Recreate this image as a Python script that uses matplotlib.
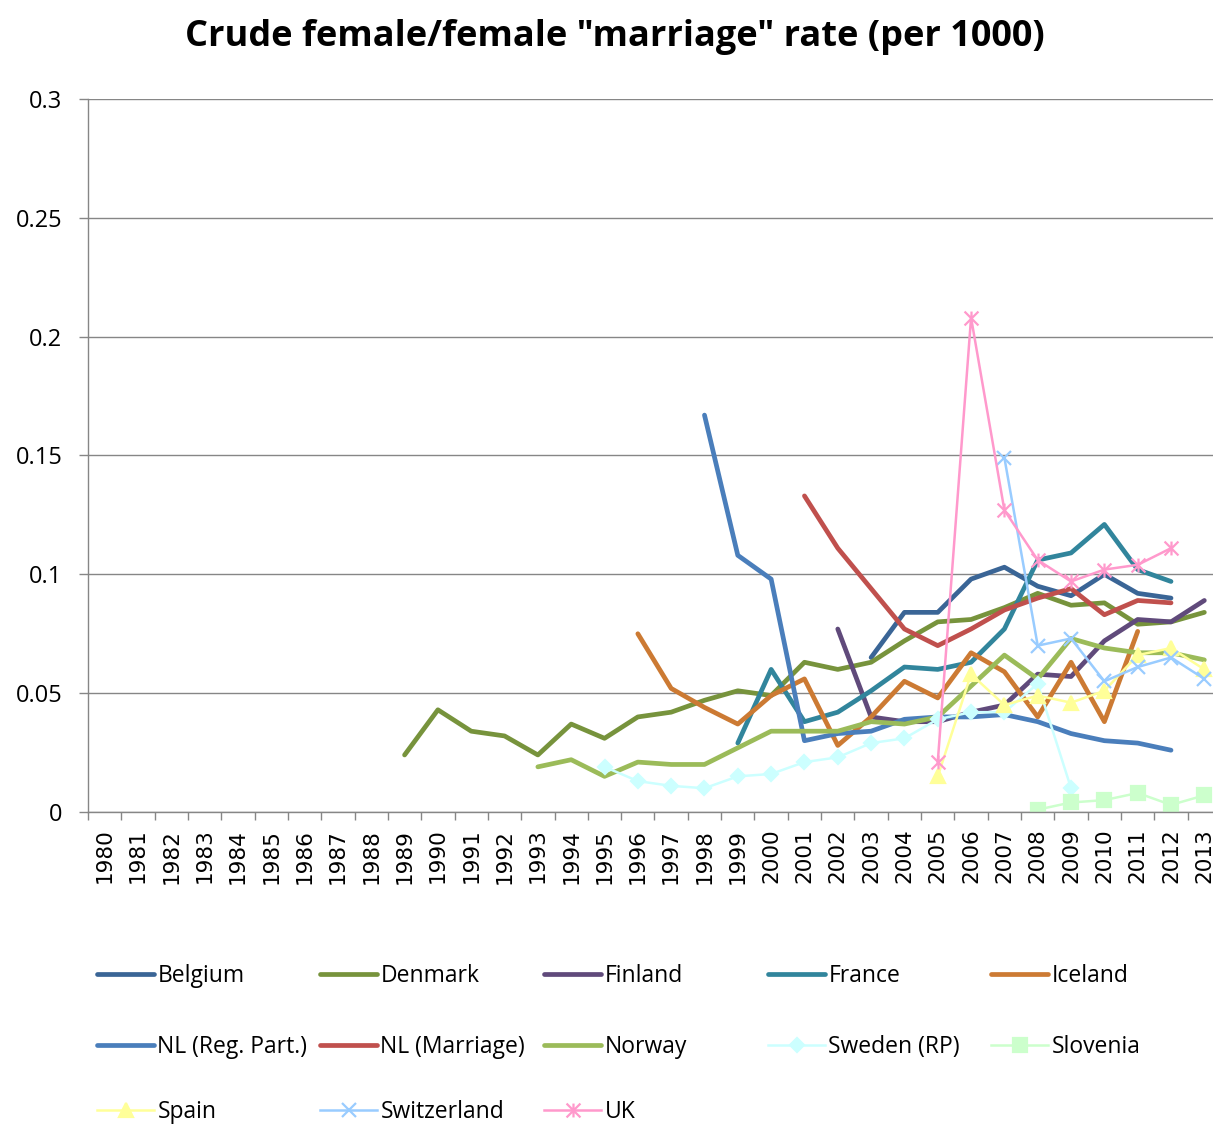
import numpy as np
import matplotlib.pyplot as plt
from matplotlib.path import Path

# years on the category axis
years = list(range(1980, 2014))
ytick_vals = [0, 0.05, 0.1, 0.15, 0.2, 0.25, 0.3]
ytick_labels = ['0', '0.05', '0.1', '0.15', '0.2', '0.25', '0.3']

# each series: first year + values
belgium_start = 2003
belgium = [0.065, 0.084, 0.084, 0.098, 0.103, 0.095, 0.091, 0.100, 0.092, 0.090]
denmark_start = 1989
denmark = [0.024, 0.043, 0.034, 0.032, 0.024, 0.037, 0.031, 0.040, 0.042, 0.047,
           0.051, 0.049, 0.063, 0.060, 0.063, 0.072, 0.080, 0.081, 0.086, 0.092,
           0.087, 0.088, 0.079, 0.080, 0.084]
finland_start = 2002
finland = [0.077, 0.040, 0.038, 0.038, 0.042, 0.045, 0.058, 0.057, 0.072, 0.081, 0.080, 0.089]
france_start = 1999
france = [0.029, 0.060, 0.038, 0.042, 0.051, 0.061, 0.060, 0.063, 0.077, 0.106,
          0.109, 0.121, 0.102, 0.097]
iceland_start = 1996
iceland = [0.075, 0.052, 0.044, 0.037, 0.049, 0.056, 0.028, 0.040, 0.055, 0.048,
           0.067, 0.059, 0.040, 0.063, 0.038, 0.076]
nl_rp_start = 1998
nl_rp = [0.167, 0.108, 0.098, 0.030, 0.033, 0.034, 0.039, 0.040, 0.040, 0.041,
         0.038, 0.033, 0.030, 0.029, 0.026]
nl_mar_start = 2001
nl_mar = [0.133, 0.111, 0.094, 0.077, 0.070, 0.077, 0.085, 0.090, 0.094, 0.083, 0.089, 0.088]
norway_start = 1993
norway = [0.019, 0.022, 0.015, 0.021, 0.020, 0.020, 0.027, 0.034, 0.034, 0.034,
          0.038, 0.037, 0.040, 0.053, 0.066, 0.056, 0.073, 0.069, 0.067, 0.067, 0.064]
sweden_start = 1995
sweden = [0.019, 0.013, 0.011, 0.010, 0.015, 0.016, 0.021, 0.023, 0.029, 0.031,
          0.039, 0.042, 0.042, 0.054, 0.010]
slovenia_start = 2008
slovenia = [0.001, 0.004, 0.005, 0.008, 0.003, 0.007]
spain_start = 2005
spain = [0.015, 0.058, 0.045, 0.049, 0.046, 0.051, 0.066, 0.069, 0.060]
swiss_start = 2007
swiss = [0.149, 0.070, 0.073, 0.055, 0.061, 0.065, 0.056]
uk_start = 2005
uk = [0.021, 0.208, 0.127, 0.106, 0.097, 0.102, 0.104, 0.111]

# Excel style star marker: an x with a vertical bar
star = Path([(-0.5, -0.5), (0.5, 0.5), (-0.5, 0.5), (0.5, -0.5), (0, -0.5), (0, 0.5)],
            [Path.MOVETO, Path.LINETO] * 3)

series = [
    ('Belgium', belgium_start, belgium, '#3a6596', None),
    ('Denmark', denmark_start, denmark, '#77933c', None),
    ('Finland', finland_start, finland, '#604a7b', None),
    ('France', france_start, france, '#31859c', None),
    ('Iceland', iceland_start, iceland, '#cc7a33', None),
    ('NL (Reg. Part.)', nl_rp_start, nl_rp, '#4a7ebb', None),
    ('NL (Marriage)', nl_mar_start, nl_mar, '#c0504d', None),
    ('Norway', norway_start, norway, '#9bbb59', None),
    ('Sweden (RP)', sweden_start, sweden, '#ccffff', 'D'),
    ('Slovenia', slovenia_start, slovenia, '#ccffcc', 's'),
    ('Spain', spain_start, spain, '#ffff99', '^'),
    ('Switzerland', swiss_start, swiss, '#99ccff', 'x'),
    ('UK', uk_start, uk, '#ff99cc', star),
]
marker_sizes = {'D': 7.5, 's': 10.5, '^': 10.5, 'x': 10}

W, H = 1213, 1131
fig = plt.figure(figsize=(W / 100, H / 100), dpi=100)
ax = fig.add_axes([88 / W, (H - 812) / H, (1221 - 88) / W, (812 - 99) / H])

handles = []
for name, start, vals, color, marker in series:
    x = np.arange(start - years[0], start - years[0] + len(vals))
    if marker is None:
        h, = ax.plot(x, vals, color=color, lw=3.4, solid_capstyle='round',
                     solid_joinstyle='round', label=name)
    else:
        ms = marker_sizes.get(marker, 10) if isinstance(marker, str) else 10
        filled = isinstance(marker, str) and marker in ('D', 's', '^')
        h, = ax.plot(x, vals, color=color, lw=1.8, marker=marker, ms=ms,
                     mfc=color if filled else 'none', mec=color, mew=1.6,
                     solid_joinstyle='round', label=name)
    handles.append(h)

ax.set_xlim(-0.5, len(years) - 0.5)
ax.set_ylim(0, 0.3)
ax.set_xticks(range(len(years)))
ax.set_xticklabels([str(y) for y in years], rotation=90, family='DejaVu Sans', fontsize=15.5)
ax.set_xticks(np.arange(-0.5, len(years)), minor=True)
ax.tick_params(axis='x', which='major', length=0, pad=12)
ax.tick_params(axis='x', which='minor', length=6, width=1, color='#868686')
ax.set_yticks(ytick_vals)
ax.set_yticklabels(ytick_labels, family='Open Sans', fontsize=17)
ax.tick_params(axis='y', length=6.5, width=1, color='#868686', pad=12)
ax.grid(axis='y', color='#868686', lw=1)
ax.set_axisbelow(True)
for side in ['top', 'right']:
    ax.spines[side].set_visible(False)
for side in ['left', 'bottom']:
    ax.spines[side].set_color('#868686')
    ax.spines[side].set_linewidth(1)

fig.text(615 / W, 1 - 46 / H, 'Crude female/female "marriage" rate (per 1000)',
         ha='center', va='baseline', fontsize=26, fontweight='bold', family='Open Sans')

# legend laid out like Excel: 5 fixed columns, 3 rows
col_x = [97, 320, 544, 768, 991]
row_y = [976, 1047, 1112]
fs = 16.5
for i, h in enumerate(handles):
    r, c = divmod(i, 5)
    fig.legend([h], [h.get_label()], loc='center left',
               bbox_to_anchor=(col_x[c] / W, 1 - row_y[r] / H),
               frameon=False, borderpad=0, borderaxespad=0, numpoints=1,
               handlelength=57 / (fs * 100 / 72), handletextpad=0.15,
               prop={'family': 'Open Sans', 'size': fs})

fig.savefig('out.png', dpi=100)
